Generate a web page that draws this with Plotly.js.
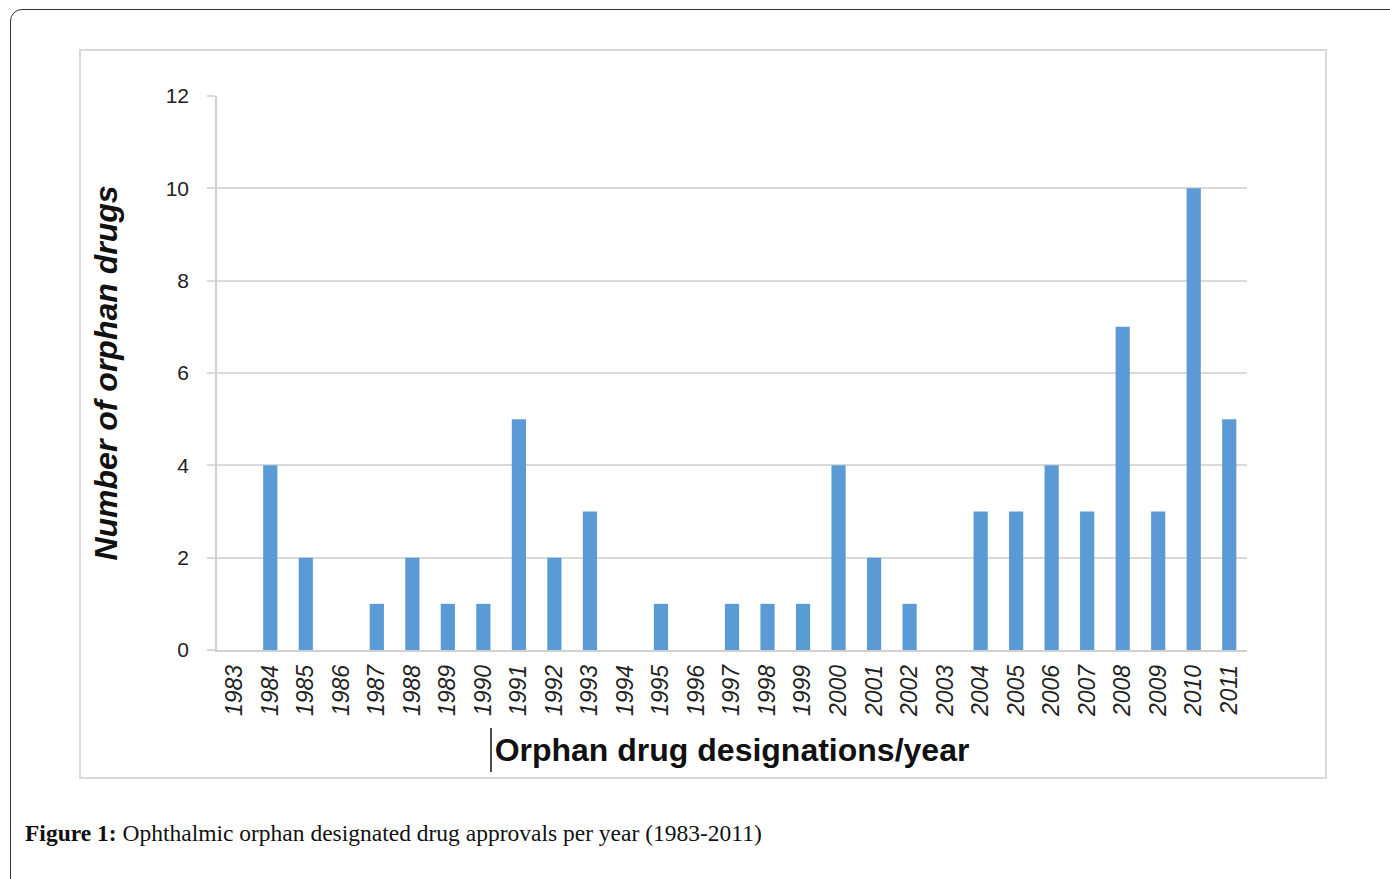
<!DOCTYPE html>
<html>
<head>
<meta charset="utf-8">
<script src="https://cdn.plot.ly/plotly-3.0.1.min.js"></script>
<style>
  html, body { margin: 0; padding: 0; background: #fff; }
  body { width: 1390px; height: 879px; position: relative; overflow: hidden; }
  #frame { position: absolute; left: 10px; top: 9px; width: 1420px; height: 920px;
           border: 1.5px solid #333; border-radius: 12px; box-sizing: border-box; }
  #box { position: absolute; left: 79px; top: 49px; width: 1248px; height: 730px;
         border: 2px solid #d9d9d9; box-sizing: border-box; }
  #chart { position: absolute; left: 0; top: 0; width: 1390px; height: 879px; }
</style>
</head>
<body>
<div id="frame"></div>
<div id="box"></div>
<div id="chart"></div>
<script>
const years = ["1983","1984","1985","1986","1987","1988","1989","1990","1991","1992",
               "1993","1994","1995","1996","1997","1998","1999","2000","2001","2002",
               "2003","2004","2005","2006","2007","2008","2009","2010","2011"];
const drugCounts = [0,4,2,0,1,2,1,1,5,2,
                    3,0,1,0,1,1,1,4,2,1,
                    0,3,3,4,3,7,3,10,5];
const yTicks = [0,2,4,6,8,10,12];
const yTitle = "Number of orphan drugs";
const xTitle = "Orphan drug designations/year";
const caption = "<b>Figure 1:</b> Ophthalmic orphan designated drug approvals per year (1983-2011)";

const px = x => (x - 217) / 1030;
const py = y => (650 - y) / 554;

const trace = {
  type: "bar",
  x: years,
  y: drugCounts,
  marker: { color: "#5B9BD5", line: { width: 0 } },
  hoverinfo: "x+y"
};

const layout = {
  width: 1390, height: 879,
  margin: { l: 217, r: 143, t: 96, b: 229, pad: 0 },
  paper_bgcolor: "rgba(0,0,0,0)",
  plot_bgcolor: "rgba(0,0,0,0)",
  showlegend: false,
  bargap: 0.6,
  font: { family: "Liberation Sans, Arial, sans-serif", color: "#222" },
  xaxis: {
    type: "category",
    tickangle: -90,
    showgrid: false,
    showline: true, linecolor: "#d0d0d0", linewidth: 1.5,
    ticks: "", ticklabelstandoff: 4,
    tickfont: { size: 23, family: "Liberation Sans, Arial, sans-serif", style: "italic", color: "#222" },
    title: { text: xTitle, standoff: 22,
             font: { size: 32, family: "Liberation Sans, Arial, sans-serif", weight: "bold", color: "#111" } },
    automargin: false,
    fixedrange: true
  },
  yaxis: {
    range: [0, 12],
    tickvals: yTicks,
    ticktext: yTicks.map(String),
    showgrid: true, gridcolor: "#d9d9d9", gridwidth: 1.5,
    zeroline: false,
    showline: true, linecolor: "#d0d0d0", linewidth: 1.5,
    ticks: "outside", ticklen: 8, tickcolor: "#d9d9d9", tickwidth: 1.5,
    ticklabelstandoff: 14,
    tickfont: { size: 21, family: "Liberation Sans, Arial, sans-serif", color: "#222" },
    title: { text: yTitle, standoff: 38,
             font: { size: 32, family: "Liberation Sans, Arial, sans-serif", weight: "bold", style: "italic", color: "#111" } },
    automargin: false,
    fixedrange: true
  },
  shapes: [
    { type: "line", xref: "paper", yref: "paper",
      x0: px(491), x1: px(491), y0: py(728), y1: py(772),
      line: { color: "#111", width: 1.5 } }
  ],
  annotations: [
    { text: caption, xref: "paper", yref: "paper",
      x: px(23), y: py(833), xanchor: "left", yanchor: "middle",
      showarrow: false,
      font: { size: 23.5, family: "Liberation Serif, Times New Roman, serif", color: "#111" } }
  ]
};

Plotly.newPlot("chart", [trace], layout, { displayModeBar: false, staticPlot: false });
</script>
</body>
</html>
